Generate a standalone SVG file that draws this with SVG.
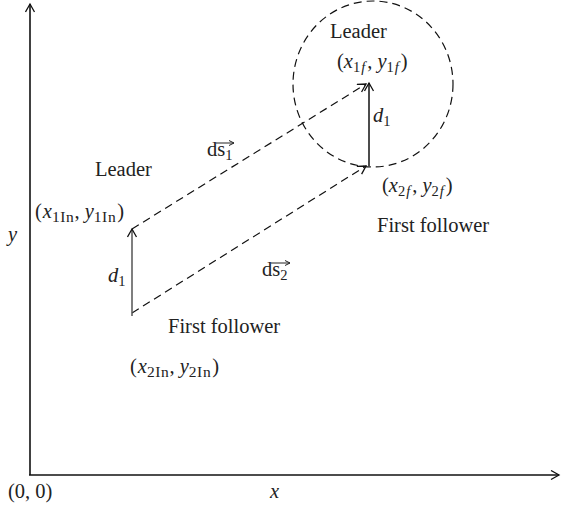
<svg xmlns="http://www.w3.org/2000/svg" width="562" height="510" viewBox="0 0 562 510">
<style>
text{font-family:"Liberation Serif","DejaVu Serif",serif;font-size:20.5px;fill:#222}
.i{font-style:italic}
.s{font-size:14.5px}
.si{font-size:15.5px;letter-spacing:0.6px}
.ax{stroke:#111;stroke-width:1.6;fill:none}
.d{stroke:#111;stroke-width:1.2;fill:none;stroke-dasharray:8 5}
.v{stroke:#111;stroke-width:1.5;fill:none}
.ah{stroke:#111;stroke-width:1.3;fill:none}
</style>
<defs>
<marker id="a" markerWidth="12" markerHeight="12" refX="9" refY="5" orient="auto" markerUnits="userSpaceOnUse">
<path d="M1,0.5 L9,5 L1,9.5" class="ah"/>
</marker>
<marker id="sa" markerWidth="8" markerHeight="8" refX="6" refY="3" orient="auto" markerUnits="userSpaceOnUse">
<path d="M1,0.5 L6,3 L1,5.5" stroke="#222" stroke-width="1" fill="none"/>
</marker>
</defs>
<g id="axes">
<line x1="30" y1="475" x2="30" y2="4" class="ax" marker-end="url(#a)"/>
<line x1="29" y1="475" x2="559" y2="475" class="ax" marker-end="url(#a)"/>
<text x="8" y="498">(0, 0)</text>
<text x="270" y="498" class="i">x</text>
<text x="8" y="241" class="i">y</text>
</g>
<g id="circle">
<ellipse cx="373" cy="84" rx="80" ry="83" class="d"/>
</g>
<g id="connectors">
<line x1="132" y1="229" x2="366" y2="84" class="d" marker-end="url(#a)"/>
<line x1="132" y1="313" x2="366" y2="166" class="d" marker-end="url(#a)"/>
<line x1="132" y1="316" x2="132" y2="229" class="v" marker-end="url(#a)" style="stroke:#555"/>
<line x1="369" y1="166" x2="369" y2="83" class="v" marker-end="url(#a)"/>
</g>
<g id="initial">
<text x="95" y="176">Leader</text>
<text x="35" y="218">(<tspan class="i" dx="1">x</tspan><tspan class="si" dy="4">1In</tspan><tspan dy="-4">, </tspan><tspan class="i">y</tspan><tspan class="si" dy="4">1In</tspan><tspan dy="-4" dx="1">)</tspan></text>
<text x="108" y="282" class="i">d<tspan class="s" dy="4" style="font-style:normal">1</tspan></text>
<text x="168" y="333">First follower</text>
<text x="130" y="373">(<tspan class="i" dx="1">x</tspan><tspan class="si" dy="4">2In</tspan><tspan dy="-4">, </tspan><tspan class="i">y</tspan><tspan class="si" dy="4">2In</tspan><tspan dy="-4" dx="1">)</tspan></text>
</g>
<g id="final">
<text x="330" y="38">Leader</text>
<text x="337" y="68">(<tspan class="i">x</tspan><tspan class="s" dy="4">1</tspan><tspan class="s i" dx="1">f</tspan><tspan dy="-4" dx="2">, </tspan><tspan class="i">y</tspan><tspan class="s" dy="4">1</tspan><tspan class="s i" dx="1">f</tspan><tspan dy="-4" dx="2">)</tspan></text>
<text x="373" y="122" class="i">d<tspan class="s" dy="4" style="font-style:normal">1</tspan></text>
<text x="382" y="192">(<tspan class="i">x</tspan><tspan class="s" dy="4">2</tspan><tspan class="s i" dx="1">f</tspan><tspan dy="-4" dx="2">, </tspan><tspan class="i">y</tspan><tspan class="s" dy="4">2</tspan><tspan class="s i" dx="1">f</tspan><tspan dy="-4" dx="2">)</tspan></text>
<text x="377" y="232">First follower</text>
</g>
<g id="labels">
<text x="207" y="156">ds<tspan class="s" dy="4">1</tspan></text>
<line x1="216" y1="143" x2="234" y2="143" stroke="#222" stroke-width="1" marker-end="url(#sa)"/>
<text x="262" y="276">ds<tspan class="s" dy="4">2</tspan></text>
<line x1="271" y1="263" x2="290" y2="263" stroke="#222" stroke-width="1" marker-end="url(#sa)"/>
</g>
</svg>
